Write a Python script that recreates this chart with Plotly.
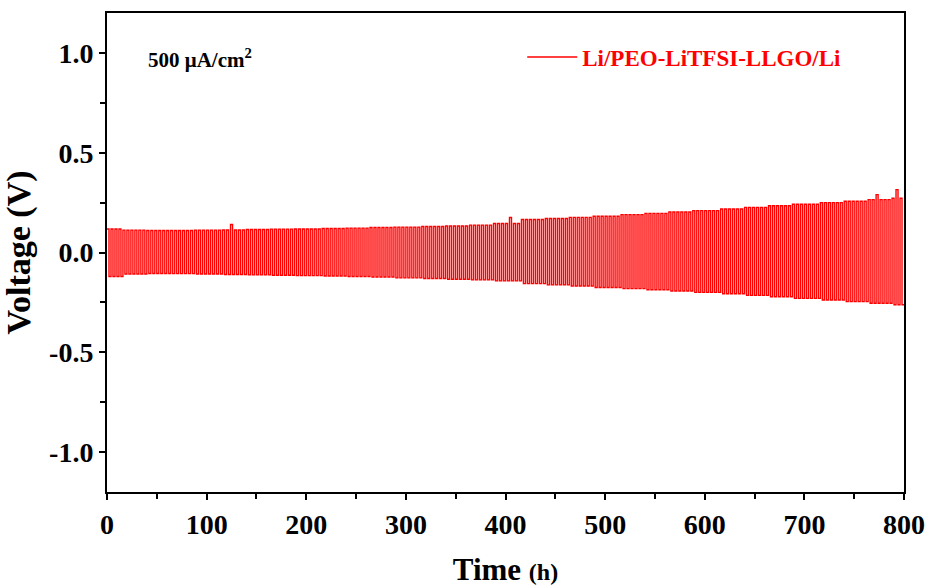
import plotly.graph_objects as go

# Envelope of the cycling trace, every 25 h
env_time = [0, 25, 50, 75, 100, 125, 150, 175, 200, 225, 250, 275, 300, 325, 350, 375,
            400, 425, 450, 475, 500, 525, 550, 575, 600, 625, 650, 675, 700, 725, 750, 775, 800]
env_upper = [0.118, 0.112, 0.110, 0.110, 0.112, 0.113, 0.115, 0.117, 0.118, 0.120, 0.122,
             0.125, 0.127, 0.130, 0.133, 0.137, 0.145, 0.165, 0.170, 0.176, 0.182, 0.190,
             0.196, 0.203, 0.210, 0.218, 0.226, 0.234, 0.242, 0.250, 0.257, 0.265, 0.272]
env_lower = [-0.120, -0.108, -0.105, -0.106, -0.108, -0.110, -0.112, -0.114, -0.116, -0.118,
             -0.120, -0.123, -0.127, -0.130, -0.134, -0.137, -0.142, -0.156, -0.162, -0.168,
             -0.175, -0.181, -0.187, -0.193, -0.200, -0.207, -0.215, -0.222, -0.230, -0.238,
             -0.246, -0.254, -0.262]
# Isolated overshoot spikes (time h, voltage V)
spike_time = [124, 406, 774, 794]
spike_value = [0.140, 0.175, 0.290, 0.315]

half_period = 2.0  # h per polarity (plating / stripping)
t_end = 800

# Build the square-wave trace: each cycle holds the nearest envelope reading
xs, ys = [], []
t0 = 0.0
while t0 < t_end - 1e-9:
    k = min(range(len(env_time)), key=lambda j: abs(env_time[j] - t0))
    up = env_upper[k]
    lo = env_lower[k]
    for st, sv in zip(spike_time, spike_value):
        if t0 <= st < t0 + 2 * half_period:
            up = sv
    t1 = min(t0 + half_period, t_end)
    t2 = min(t0 + 2 * half_period, t_end)
    xs += [t0, t1, t1, t2]
    ys += [up, up, lo, lo]
    t0 += 2 * half_period

FONT = "Liberation Serif, Times New Roman, serif"

fig = go.Figure()
fig.add_trace(go.Scatter(
    x=xs, y=ys, mode="lines",
    line=dict(color="#ff0000", width=1.4),
    name="Li/PEO-LiTFSI-LLGO/Li",
    showlegend=True,
))

axis_common = dict(
    showgrid=False, zeroline=False, automargin=False,
    showline=True, linecolor="black", linewidth=2, mirror=True,
    ticks="outside", ticklen=6, tickwidth=2, tickcolor="black",
    tickfont=dict(family=FONT, size=28, color="black", weight="bold"),
)

fig.update_layout(
    width=931, height=587,
    margin=dict(l=107, r=27, t=13, b=95),
    plot_bgcolor="white", paper_bgcolor="white",
    font=dict(family=FONT, color="black"),
    xaxis=dict(
        range=[0, 800], tickmode="linear", tick0=0, dtick=100,
        minor=dict(ticks="outside", ticklen=5, tickwidth=2, dtick=50, tickcolor="black"),
        title=dict(text="Time <span style='font-size:24px'>(h)</span>",
                   font=dict(family=FONT, size=31, color="black", weight="bold"), standoff=20),
        **axis_common,
    ),
    yaxis=dict(
        range=[-1.2, 1.2], tickmode="array",
        tickvals=[-1.0, -0.5, 0.0, 0.5, 1.0],
        ticktext=["-1.0", "-0.5", "0.0", "0.5", "1.0"],
        minor=dict(ticks="outside", ticklen=5, tickwidth=2,
                   tickvals=[-0.75, -0.25, 0.25, 0.75], tickcolor="black"),
        title=dict(text="Voltage (V)",
                   font=dict(family=FONT, size=34, color="black", weight="bold"), standoff=8),
        **axis_common,
    ),
    legend=dict(
        x=0.521, y=0.908, xanchor="left", yanchor="middle",
        bgcolor="rgba(0,0,0,0)", borderwidth=0,
        font=dict(family=FONT, size=23, color="#ff0000", weight="bold"),
        itemwidth=50,
    ),
    annotations=[dict(
        x=0.049, y=0.904, xref="paper", yref="paper", xanchor="left", yanchor="middle",
        text="500 μA/cm<sup>2</sup>", showarrow=False,
        font=dict(family=FONT, size=21, color="black", weight="bold"),
    )],
)

fig.write_html("out.html")
